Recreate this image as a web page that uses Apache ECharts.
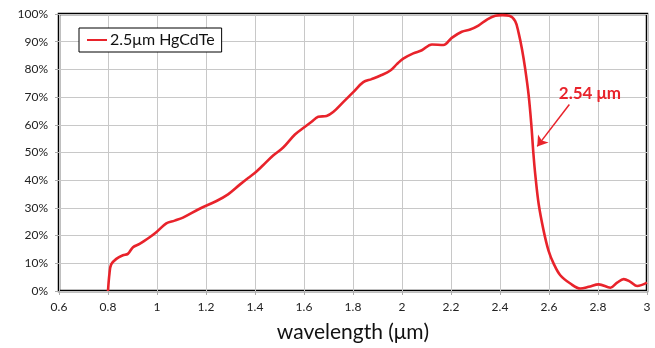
<!DOCTYPE html>
<html>
<head>
<meta charset="utf-8">
<script src="https://cdn.jsdelivr.net/npm/echarts@6/dist/echarts.min.js"></script>
<style>
html,body{margin:0;padding:0;background:#fff;}
#chart{width:655px;height:348px;}
</style>
</head>
<body>
<div id="chart"></div>
<script>
const seriesName = '2.5μm HgCdTe';
const wavelength = [0.8, 0.806, 0.813, 0.834, 0.861, 0.881, 0.902, 0.929, 0.970, 0.997, 1.038, 1.072, 1.106, 1.174, 1.243, 1.290, 1.338, 1.372, 1.399, 1.433, 1.474, 1.515, 1.563, 1.604, 1.631, 1.658, 1.692, 1.719, 1.760, 1.801, 1.842, 1.876, 1.910, 1.951, 1.979, 2.005, 2.046, 2.081, 2.122, 2.169, 2.203, 2.244, 2.278, 2.312, 2.347, 2.381, 2.410, 2.438, 2.462, 2.476, 2.490, 2.503, 2.517, 2.528, 2.536, 2.544, 2.558, 2.578, 2.598, 2.619, 2.646, 2.687, 2.728, 2.762, 2.803, 2.851, 2.878, 2.905, 2.932, 2.960, 3.0];
const response = [0, 6.3, 9.6, 11.6, 12.9, 13.4, 15.8, 17, 19.4, 21.2, 24.4, 25.4, 26.5, 29.7, 32.5, 34.9, 38.4, 40.8, 42.6, 45.4, 48.9, 51.8, 56.5, 59.3, 61.1, 62.9, 63.2, 64.6, 68.2, 71.8, 75.4, 76.5, 77.7, 79.5, 81.9, 83.9, 85.8, 86.9, 89.0, 88.8, 91.4, 93.6, 94.4, 95.8, 98.0, 99.4, 99.6, 99.4, 97.4, 93.2, 87.2, 80.1, 70.6, 59.9, 50, 42, 31.3, 21.8, 14.6, 9.9, 5.7, 2.7, 0.9, 1.5, 2.4, 1.2, 3.0, 4.3, 3.3, 1.8, 3.0];
const annotationText = '2.54 μm';
const arrowFrom = [2.683, 67.3];
const arrowTo = [2.552, 52.2];
const annotationPos = [2.767, 71.2];

const RED = '#e8232b';
const FONT = 'Lato, "Open Sans", sans-serif';
const chart = echarts.init(document.getElementById('chart'));
chart.setOption({
  animation: false,
  textStyle: { fontFamily: FONT },
  grid: { left: 59, right: 8, top: 14, bottom: 53, show: true, borderColor: '#000', borderWidth: 2.5, containLabel: false },
  legend: {
    left: 79, top: 28,
    data: [{ name: seriesName, icon: 'rect' }],
    backgroundColor: '#fff',
    borderColor: '#000', borderWidth: 1,
    padding: [4, 7, 4, 8],
    itemWidth: 20, itemHeight: 2,
    itemGap: 4,
    textStyle: { fontSize: 16, color: '#111', fontFamily: FONT, padding: [0, 0, 0, -2] }
  },
  xAxis: {
    type: 'value', min: 0.6, max: 3, interval: 0.2,
    name: 'wavelength (μm)', nameLocation: 'middle', nameGap: 31,
    nameTextStyle: { fontSize: 21, color: '#111', fontFamily: FONT },
    axisLine: { show: false },
    axisTick: { show: true, length: 4, lineStyle: { color: '#aaa' } },
    axisLabel: { fontSize: 12, color: '#222', margin: 10, formatter: v => String(Math.round(v * 10) / 10) },
    splitLine: { show: true, lineStyle: { color: '#c8c8c8', width: 1 } }
  },
  yAxis: {
    type: 'value', min: 0, max: 100, interval: 10,
    axisLine: { show: false },
    axisTick: { show: true, length: 4, lineStyle: { color: '#aaa' } },
    axisLabel: { fontSize: 12, color: '#222', margin: 11, formatter: '{value}%' },
    splitLine: { show: true, lineStyle: { color: '#c8c8c8', width: 1 } }
  },
  series: [{
    name: seriesName,
    type: 'line',
    data: wavelength.map((w, i) => [w, response[i]]),
    smooth: 0.35,
    symbol: 'none',
    lineStyle: { color: RED, width: 2.6 },
    itemStyle: { color: RED },
    markLine: {
      silent: true,
      symbol: ['none', 'arrow'],
      symbolSize: 10,
      lineStyle: { color: RED, width: 1.5, type: 'solid' },
      itemStyle: { color: RED },
      label: { show: false },
      data: [[{ coord: arrowFrom }, { coord: arrowTo }]]
    },
    markPoint: {
      silent: true,
      symbol: 'circle', symbolSize: 0,
      label: { show: true, position: 'inside', formatter: annotationText, color: RED, fontWeight: 'bold', fontSize: 17, fontFamily: FONT },
      data: [{ coord: annotationPos }]
    }
  }]
});
</script>
</body>
</html>
